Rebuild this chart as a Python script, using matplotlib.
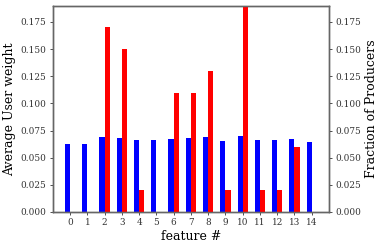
import numpy as np
import matplotlib
matplotlib.use("Agg")
import matplotlib.pyplot as plt

features = np.arange(15)
user_weight = [0.063, 0.063, 0.069, 0.068, 0.066, 0.066, 0.067, 0.068,
               0.069, 0.065, 0.070, 0.066, 0.066, 0.067, 0.064]
producer_frac = [0.0, 0.0, 0.17, 0.15, 0.02, 0.0, 0.11, 0.11,
                 0.13, 0.02, 0.19, 0.02, 0.02, 0.06, 0.0]
yticks = [0.0, 0.025, 0.05, 0.075, 0.1, 0.125, 0.15, 0.175]

plt.rcParams['font.family'] = 'DejaVu Serif'

fig = plt.figure(figsize=(3.83, 2.47), dpi=100)
ax1 = fig.add_axes([0.138, 0.142, 0.721, 0.835])
ax2 = ax1.twinx()

ax1.bar(features - 0.15, user_weight, width=0.3, color='blue')
ax2.bar(features + 0.15, producer_frac, width=0.3, color='red')

for ax in (ax1, ax2):
    ax.set_ylim(0, 0.19)
    ax.set_yticks(yticks)
    ax.set_yticklabels(["%.3f" % v for v in yticks])
    ax.tick_params(labelsize=6.4, length=2.5, width=0.6, colors='#333333', pad=2)
    for s in ax.spines.values():
        s.set_color('#666666')
        s.set_linewidth(1.0)

ax1.set_xlim(-1, 15)
ax1.set_xticks(features)
ax1.set_xticklabels([str(f) for f in features])
ax1.set_xlabel("feature #", fontsize=9, labelpad=2)
ax1.set_ylabel("Average User weight", fontsize=9, labelpad=3)
ax2.set_ylabel("Fraction of Producers", fontsize=9, labelpad=3)

fig.savefig("out.png", dpi=100)
